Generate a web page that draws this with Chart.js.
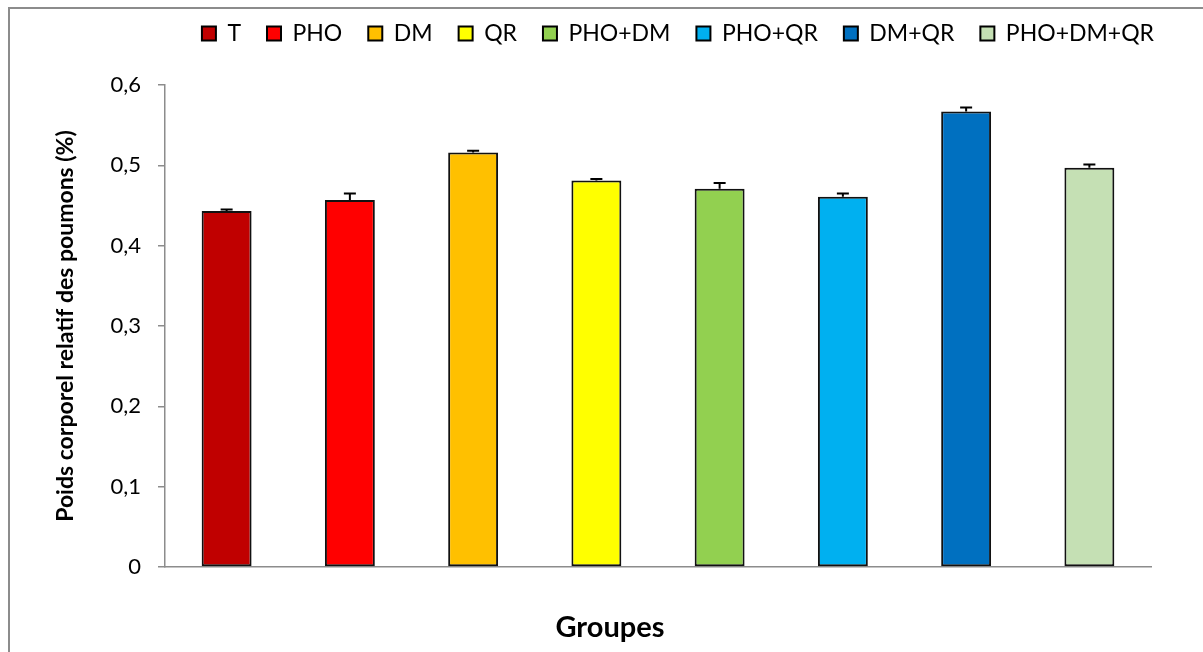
<!DOCTYPE html>
<html>
<head>
<meta charset="utf-8">
<script src="https://cdn.jsdelivr.net/npm/chart.js@4.4.0/dist/chart.umd.min.js"></script>
<style>
  html, body { margin: 0; padding: 0; background: #fff; }
  #wrap { width: 1203px; height: 652px; position: relative; }
</style>
</head>
<body>
<div id="wrap"><canvas id="lungChart" width="1203" height="652"></canvas></div>
<script>
// ========== DATA ==========
const groups = ['T', 'PHO', 'DM', 'QR', 'PHO+DM', 'PHO+QR', 'DM+QR', 'PHO+DM+QR'];
const meanValues = [0.443, 0.457, 0.516, 0.481, 0.471, 0.461, 0.567, 0.497];
const errValues = [0.002, 0.008, 0.002, 0.002, 0.007, 0.004, 0.005, 0.004];
const barColors = ['#C00000', '#FF0000', '#FFC000', '#FFFF00', '#92D050', '#00B0F0', '#0070C0', '#C5E0B4'];
const yTicks = [0, 0.1, 0.2, 0.3, 0.4, 0.5, 0.6];

const FONT = 'Lato, "Open Sans", sans-serif';
const AXIS_GRAY = '#8c8c8c';

// outer frame, like the excel chart border (only top/left visible)
const framePlugin = {
  id: 'frame',
  beforeDraw(chart) {
    const c = chart.ctx;
    c.save();
    c.strokeStyle = '#8c8c8c';
    c.lineWidth = 2;
    c.beginPath();
    c.moveTo(9, 700);
    c.lineTo(9, 8);
    c.lineTo(1300, 8);
    c.stroke();
    c.restore();
  }
};

// plus-only error bars
const errorBarPlugin = {
  id: 'errorBars',
  afterDatasetsDraw(chart) {
    const c = chart.ctx;
    const meta = chart.getDatasetMeta(0);
    const y = chart.scales.y;
    c.save();
    c.strokeStyle = '#000';
    c.lineWidth = 2;
    meta.data.forEach((bar, i) => {
      const top = y.getPixelForValue(meanValues[i]);
      const end = y.getPixelForValue(meanValues[i] + errValues[i]);
      c.beginPath();
      c.moveTo(bar.x, top);
      c.lineTo(bar.x, end);
      c.moveTo(bar.x - 6, end);
      c.lineTo(bar.x + 6, end);
      c.stroke();
    });
    c.restore();
  }
};

function initLungChart() {
  const ctx = document.getElementById('lungChart');

  new Chart(ctx.getContext('2d'), {
    type: 'bar',
    data: {
      labels: groups,
      datasets: [{
        data: meanValues,
        backgroundColor: barColors,
        borderColor: '#111',
        borderWidth: 2,
        borderSkipped: false,
        categoryPercentage: 1,
        barPercentage: 0.405
      }]
    },
    options: {
      responsive: false,
      animation: false,
      layout: { padding: { top: -4, right: 23, left: 40, bottom: 0 } },
      plugins: {
        tooltip: { enabled: false },
        // empty title used as spacer between legend and plot
        title: {
          display: true,
          text: ' ',
          weight: 500,
          font: { size: 10 },
          padding: { top: 18, bottom: 0 }
        },
        // x axis caption, centred on the whole chart like the reference
        subtitle: {
          display: true,
          position: 'bottom',
          text: 'Groupes',
          color: '#000',
          font: { family: FONT, size: 29, weight: 'bold' },
          padding: { top: 6, bottom: 7 }
        },
        legend: {
          position: 'top',
          align: 'end',
          labels: {
            color: '#000',
            font: { family: FONT, size: 23 },
            boxWidth: 14,
            boxHeight: 14,
            padding: 26,
            generateLabels: () => groups.map((g, i) => ({
              text: g,
              fillStyle: barColors[i],
              strokeStyle: '#000',
              lineWidth: 2,
              index: i
            }))
          },
          onClick: () => {}
        }
      },
      scales: {
        x: {
          grid: { display: false },
          border: { color: AXIS_GRAY, width: 1.5 },
          ticks: { display: false },
          afterFit: s => { s.height = 37.2; }
        },
        y: {
          min: 0,
          max: 0.6,
          afterBuildTicks: s => { s.ticks = yTicks.map(v => ({ value: v })); },
          grid: { drawOnChartArea: false, drawTicks: true, tickLength: 7, color: AXIS_GRAY, lineWidth: 1.5 },
          border: { color: AXIS_GRAY, width: 1.5 },
          ticks: {
            color: '#000',
            font: { family: FONT, size: 22 },
            padding: 17,
            callback: v => v === 0 ? '0' : v.toFixed(1).replace('.', ',')
          },
          title: {
            display: true,
            text: 'Poids corporel relatif des poumons (%)',
            color: '#000',
            font: { family: FONT, size: 23, weight: 'bold' },
            padding: { top: 12, bottom: 0 }
          },
          afterFit: s => { s.width = 125; }
        },
        // blank right-hand spacer so the plot stops where the reference does
        y2: {
          position: 'right',
          display: true,
          grid: { display: false },
          border: { display: false },
          ticks: { display: false },
          afterFit: s => { s.width = 29; }
        }
      }
    },
    plugins: [framePlugin, errorBarPlugin]
  });
}

document.addEventListener('DOMContentLoaded', () => {
  initLungChart();
});
</script>
</body>
</html>
